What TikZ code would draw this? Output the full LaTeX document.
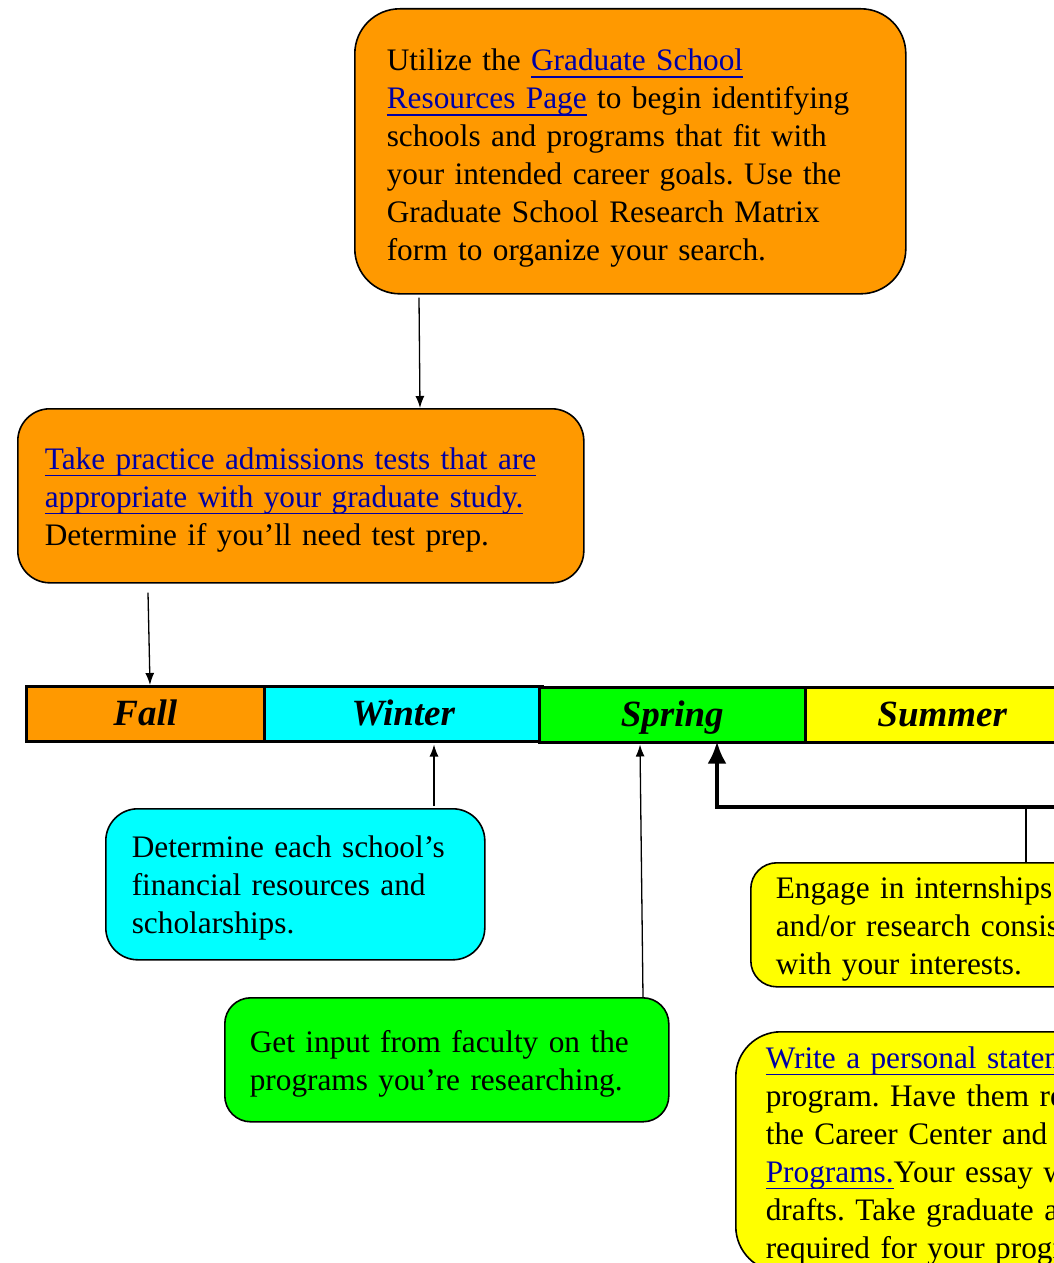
\documentclass[tikz,border=0pt]{standalone}
\usepackage{fontspec}
\setmainfont{Liberation Serif}
\usetikzlibrary{arrows.meta, positioning}
\usepackage{xcolor}
\definecolor{fallorange}{RGB}{255, 153, 0}
\definecolor{wintercyan}{RGB}{0, 255, 255}
\definecolor{springgreen}{RGB}{0, 255, 0}
\definecolor{summeryellow}{RGB}{255, 255, 0}
\definecolor{linkblue}{RGB}{0, 0, 165}
\newcommand{\weblink}[1]{\textcolor{linkblue}{\setbox0\hbox{#1}\rlap{\rule[-7pt]{\wd0}{1.8pt}}\box0}}
\frenchspacing

\begin{document}
\begin{tikzpicture}[x=1pt, y=-1pt,
    card/.style={draw=black, line width=1.6pt, anchor=north west, align=left,
        font=\fontsize{31.3}{38}\selectfont, execute at begin node={\rule{0pt}{30pt}}},
    season/.style={draw=black, line width=2.5pt, anchor=north west, minimum height=55pt,
        inner sep=0pt, text height=27pt, text depth=4pt,
        font=\fontsize{37}{40}\selectfont\bfseries\itshape},
    thinarrow/.style={-{Latex[length=12pt, width=9pt]}, line width=1.3pt},
    thickarrow/.style={-{Latex[length=22pt, width=19pt]}, line width=4pt},
    plainline/.style={line width=1.3pt}]
        \useasboundingbox (0,0) rectangle (1054,1263);
        \clip (0,0) rectangle (1054,1263);

        % steps
        \node[card, fill=fallorange, rounded corners=45pt, minimum height=285pt,
              inner xsep=32pt, text width=487pt, execute at begin node={\rule{0pt}{36pt}}] (research) at (354,8)
            {Utilize the \weblink{Graduate School}\\
             \weblink{Resources Page} to begin identifying\\
             schools and programs that fit with\\
             your intended career goals. Use the\\
             Graduate School Research Matrix\\
             form to organize your search.};

        \node[card, fill=fallorange, rounded corners=32pt, minimum height=174pt,
              inner xsep=27pt, text width=512pt] (practice) at (17,408)
            {\weblink{Take practice admissions tests that are}\\
             \weblink{appropriate with your graduate study.}\\
             Determine if you’ll need test prep.};

        \node[card, fill=wintercyan, rounded corners=32pt, minimum height=151pt,
              inner xsep=26pt, text width=327pt] (finance) at (105,808)
            {Determine each school’s\\
             financial resources and\\
             scholarships.};

        \node[card, fill=springgreen, rounded corners=26pt, minimum height=124pt,
              inner xsep=25pt, text width=394pt] (faculty) at (224,997)
            {Get input from faculty on the\\
             programs you’re researching.};

        \node[card, fill=summeryellow, rounded corners=26pt, minimum height=124pt,
              inner xsep=25pt, text width=450pt] (internship) at (750,862)
            {Engage in internships\\
             and/or research consis\\
             with your interests.};

        \node[card, fill=summeryellow, rounded corners=45pt, inner ysep=6.5pt,
              inner xsep=30pt, text width=440pt] (statement) at (735,1031)
            {\weblink{Write a personal statem}\\
             program. Have them re\\
             the Career Center and\\
             \weblink{Programs.}Your essay w\\
             drafts. Take graduate a\\
             required for your progr};

        % seasons
        \node[season, fill=fallorange, minimum width=238pt] (fall) at (25,685) {Fall};
        \node[season, fill=wintercyan, minimum width=278pt] (winter) at (263,685) {Winter};
        \node[season, fill=springgreen, minimum width=266pt] (spring) at (538,686) {Spring};
        \node[season, fill=summeryellow, minimum width=274pt] (summer) at (804,686) {Summer};

        % arrows
        \draw[thinarrow] ([xshift=65pt, yshift=-3pt]research.south west) -- ([xshift=403pt]practice.north west);
        \draw[thinarrow] ([xshift=131pt, yshift=-9pt]practice.south west) -- ([xshift=125pt]fall.north west);
        \draw[thinarrow] ([xshift=329pt, yshift=2pt]finance.north west) -- ([xshift=171pt, yshift=-2pt]winter.south west);
        \draw[thinarrow] ([xshift=419pt]faculty.north west) -- ([xshift=102pt, yshift=-1pt]spring.south west);

        \coordinate (offright) at (1100,807);
        \coordinate (bend) at (717,807);
        \coordinate (junction) at (1026,807);
        \draw[plainline] ([xshift=276pt]internship.north west) -- (junction);
        \draw[thickarrow] (offright) -- (bend) -- ([xshift=179pt, yshift=2pt]spring.south west);
\end{tikzpicture}
\end{document}
